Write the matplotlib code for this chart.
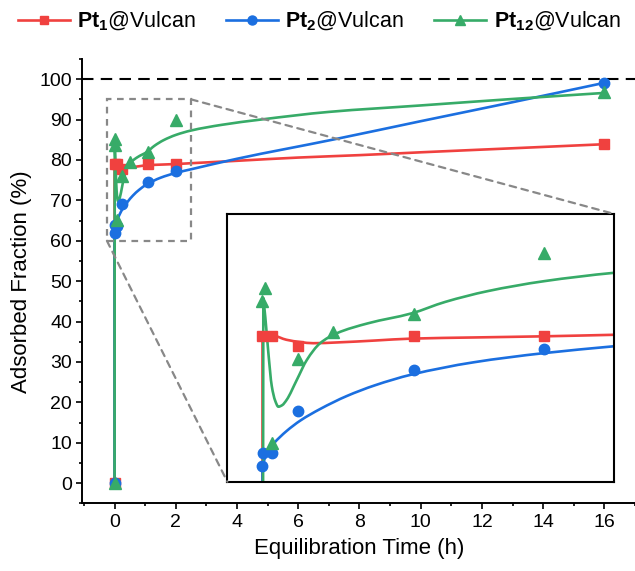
import matplotlib
matplotlib.use("Agg")
import numpy as np
import matplotlib.pyplot as plt
from matplotlib.ticker import MultipleLocator
from matplotlib.lines import Line2D
from matplotlib.path import Path
from matplotlib.patches import Rectangle, ConnectionPatch, PathPatch

plt.rcParams["font.family"] = ["Liberation Sans", "DejaVu Sans"]
plt.rcParams["mathtext.fontset"] = "custom"
plt.rcParams["mathtext.rm"] = "Liberation Sans"
plt.rcParams["mathtext.bf"] = "Liberation Sans:bold"

# measured points
t_pt1 = [0, 0, 0.067, 0.25, 1.08, 2, 16]
y_pt1 = [0, 79.1, 79.1, 77.8, 79.0, 79.0, 83.9]
t_pt2 = [0, 0, 0.005, 0.067, 0.25, 1.08, 2, 16]
y_pt2 = [0, 62.0, 63.8, 63.7, 69.2, 74.6, 77.3, 99.1]
t_pt12 = [0, 0, 0.018, 0.067, 0.25, 0.5, 1.08, 2, 16]
y_pt12 = [0, 83.6, 85.3, 65.1, 76.0, 79.6, 81.9, 89.9, 96.8]

# smoothed fit curves (first point = top of the jump at t=0)
fx_pt1 = [0, 0.077, 0.17, 0.27, 0.36, 0.53, 0.8, 1.06, 1.5, 2.0, 2.5, 4, 6, 8, 10, 13, 16]
fy_pt1 = [79.1, 79.07, 78.55, 78.25, 78.1, 78.2, 78.45, 78.7, 78.85, 79.0, 79.2, 79.8, 80.6, 81.2, 81.9, 82.9, 83.9]
fx_pt2 = [0, 0.03, 0.08, 0.17, 0.27, 0.41, 0.6, 0.8, 1.06, 1.5, 2.0, 2.5, 4, 7.17, 10, 13, 16]
fy_pt2 = [62.0, 63.8, 65.0, 66.6, 68.0, 69.5, 71.2, 72.6, 74.0, 75.6, 76.8, 77.7, 80.3, 85.1, 89.6, 94.3, 99.1]
fx_pt12 = [0.006, 0.02, 0.042, 0.066, 0.09, 0.113, 0.14, 0.172, 0.244, 0.315, 0.41, 0.528,
           0.75, 1.06, 1.3, 1.6, 2.0, 2.5, 3.5, 4.77, 7, 10, 13, 16]
fy_pt12 = [84.0, 81.5, 76.8, 72.5, 70.6, 69.8, 70.0, 70.7, 73.3, 75.9, 78.1, 79.4,
           80.7, 82.0, 83.5, 84.9, 86.2, 87.3, 88.7, 90.0, 91.9, 93.5, 95.1, 96.6]

labels = [r"$\mathbf{Pt_1}$@Vulcan", r"$\mathbf{Pt_2}$@Vulcan", r"$\mathbf{Pt_{12}}$@Vulcan"]
colors = ["#F0413F", "#1B6FE0", "#37AB68"]
markers = ["s", "o", "^"]
msizes = [6.5, 7.5, 8]

series = [(t_pt1, y_pt1, fx_pt1, fy_pt1),
          (t_pt2, y_pt2, fx_pt2, fy_pt2),
          (t_pt12, y_pt12, fx_pt12, fy_pt12)]


def smooth_path(x, y):
    # bezier path through the read points (monotone cubic tangents)
    x = np.asarray(x, float)
    y = np.asarray(y, float)
    h = np.diff(x)
    d = np.diff(y) / h
    m = np.zeros_like(y)
    m[0], m[-1] = d[0], d[-1]
    for i in range(1, len(x) - 1):
        if d[i - 1] * d[i] > 0:
            w1 = 2 * h[i] + h[i - 1]
            w2 = h[i] + 2 * h[i - 1]
            m[i] = (w1 + w2) / (w1 / d[i - 1] + w2 / d[i])
    verts = [(0, 0), (x[0], y[0])]
    codes = [Path.MOVETO, Path.LINETO]
    for i in range(len(x) - 1):
        verts += [(x[i] + h[i] / 3, y[i] + m[i] * h[i] / 3),
                  (x[i + 1] - h[i] / 3, y[i + 1] - m[i + 1] * h[i] / 3),
                  (x[i + 1], y[i + 1])]
        codes += [Path.CURVE4] * 3
    return Path(verts, codes)


fig = plt.figure(figsize=(6.35, 5.71), dpi=100)
ax = fig.add_axes([0.1298, 0.1184, 0.8702, 0.7783])
ins = fig.add_axes([0.358, 0.1564, 0.609, 0.469])


def draw(a):
    for (tx, ty, fx, fy), c, m, ms in zip(series, colors, markers, msizes):
        a.add_patch(PathPatch(smooth_path(fx, fy), fill=False, ec=c, lw=1.9,
                              joinstyle="round", capstyle="round"))
        a.plot(tx, ty, linestyle="none", marker=m, ms=ms, color=c, mec=c)


draw(ax)
ax.axhline(100, color="black", lw=1.5, ls=(0, (5.5, 3.5)), zorder=0)
ax.set_xlim(-1.05, 17.0)
ax.set_ylim(-5, 105)
ax.xaxis.set_major_locator(MultipleLocator(2))
ax.xaxis.set_minor_locator(MultipleLocator(1))
ax.yaxis.set_major_locator(MultipleLocator(10))
ax.yaxis.set_minor_locator(MultipleLocator(5))
ax.spines["top"].set_visible(False)
ax.spines["right"].set_visible(False)
for s in ["left", "bottom"]:
    ax.spines[s].set_linewidth(1.4)
ax.tick_params(which="major", direction="out", length=4.5, width=1.2, labelsize=14, pad=3)
ax.tick_params(which="minor", direction="out", length=2.5, width=1.2)
ax.set_xlabel("Equilibration Time (h)", fontsize=16, labelpad=5)
ax.set_ylabel("Adsorbed Fraction (%)", fontsize=16, labelpad=5)

# zoom box and connectors
x0, x1, y0, y1 = -0.25, 2.5, 60, 95
ax.add_patch(Rectangle((x0, y0), x1 - x0, y1 - y0, fill=False, ec="#888888",
                       lw=1.6, ls=(0, (3, 2.5)), zorder=1))

draw(ins)
ins.set_xlim(x0, x1)
ins.set_ylim(y0, y1)
ins.set_xticks([])
ins.set_yticks([])
for s in ins.spines.values():
    s.set_linewidth(1.5)

for pa, pb in [((x1, y1), (1, 1)), ((x0, y0), (0, 0))]:
    con = ConnectionPatch(xyA=pa, coordsA=ax.transData, xyB=pb, coordsB=ins.transAxes,
                          color="#888888", lw=1.6, ls=(0, (3, 2.5)))
    fig.add_artist(con)

handles = [Line2D([], [], color=c, lw=1.9, marker=m, ms=ms - 1)
           for c, m, ms in zip(colors, markers, msizes)]
fig.legend(handles, labels, loc="center", bbox_to_anchor=(0.503, 0.962), ncol=3,
           frameon=False, fontsize=15.5, handlelength=2.4, handletextpad=0.35,
           columnspacing=1.4, borderaxespad=0)

fig.savefig("out.png", dpi=100)
